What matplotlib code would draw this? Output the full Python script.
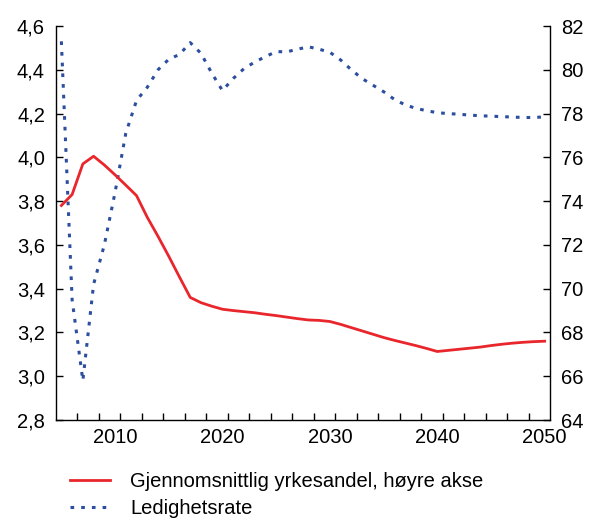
import numpy as np
import matplotlib
matplotlib.use("Agg")
import matplotlib.pyplot as plt
from matplotlib.ticker import FixedLocator, FuncFormatter

plt.rcParams['font.family'] = ['Liberation Sans', 'DejaVu Sans']

years = list(range(2005, 2051))

# Gjennomsnittlig yrkesandel (right axis)
yrkesandel = [73.8, 74.3, 75.7, 76.05, 75.65, 75.2, 74.73, 74.25, 73.26, 72.39,
              71.48, 70.53, 69.6, 69.36, 69.2, 69.06, 69.0, 68.95, 68.9, 68.83,
              68.77, 68.7, 68.63, 68.57, 68.55, 68.5, 68.37, 68.22, 68.07, 67.92,
              67.77, 67.64, 67.52, 67.4, 67.27, 67.13, 67.18, 67.23, 67.28, 67.33,
              67.4, 67.46, 67.51, 67.55, 67.58, 67.6]

# Ledighetsrate (left axis)
ledighet = [4.53, 3.35, 2.98, 3.42, 3.60, 3.84, 4.11, 4.26, 4.32, 4.40,
            4.448, 4.47, 4.524, 4.475, 4.385, 4.305, 4.36, 4.405, 4.435, 4.46,
            4.483, 4.482, 4.494, 4.505, 4.494, 4.48, 4.445, 4.40, 4.36, 4.33,
            4.30, 4.265, 4.24, 4.224, 4.213, 4.204, 4.20, 4.197, 4.193, 4.19,
            4.188, 4.186, 4.184, 4.182, 4.182, 4.185]

left_ticks = [2.8, 3.0, 3.2, 3.4, 3.6, 3.8, 4.0, 4.2, 4.4, 4.6]
right_ticks = [64, 66, 68, 70, 72, 74, 76, 78, 80, 82]
x_labels = [2010, 2020, 2030, 2040, 2050]

label_red = "Gjennomsnittlig yrkesandel, høyre akse"
label_blue = "Ledighetsrate"

RED = '#e8262c'
BLUE = '#2c4e9e'
FS = 14.5

W, H = 590, 519
fig = plt.figure(figsize=(W / 100, H / 100), dpi=100)
ax = fig.add_axes([56 / W, 1 - 420 / H, (550 - 56) / W, (420 - 26) / H])
ax2 = ax.twinx()

lb, = ax.plot(years, ledighet, color=BLUE, lw=2.2, linestyle=(0, (1.2, 2.3)),
              dash_capstyle='butt', label=label_blue, zorder=2)
lr, = ax2.plot(years, yrkesandel, color=RED, lw=2.0, label=label_red, zorder=3)

ax.set_xlim(2004.5, 2050.5)
ax.set_ylim(2.8, 4.6)
ax2.set_ylim(64, 82)

ax.set_yticks(left_ticks)
ax.yaxis.set_major_formatter(FuncFormatter(lambda v, p: f"{v:.1f}".replace('.', ',')))
ax2.set_yticks(right_ticks)
ax2.yaxis.set_major_formatter(FuncFormatter(lambda v, p: f"{int(round(v))}"))

ax.xaxis.set_major_locator(FixedLocator(x_labels))
ax.xaxis.set_minor_locator(FixedLocator(np.arange(2006.5, 2049, 2)))
ax.tick_params(axis='x', which='major', length=0, pad=6, labelsize=FS)
ax.tick_params(axis='x', which='minor', direction='in', length=5, width=1, color='black')
ax.tick_params(axis='y', direction='in', length=5, width=1, pad=8, labelsize=FS)
ax2.tick_params(axis='y', direction='in', length=5, width=1, pad=8, labelsize=FS)

for a in (ax, ax2):
    a.spines['top'].set_visible(False)
    for s in a.spines.values():
        s.set_linewidth(1.0)
        s.set_color('black')
ax.spines['right'].set_visible(False)
ax2.spines['left'].set_visible(False)
ax2.spines['bottom'].set_visible(False)

fig.legend(handles=[lr, lb], loc='upper left',
           bbox_to_anchor=(70 / W, 1 - 472 / H), frameon=False,
           fontsize=FS, handlelength=2.0, handletextpad=1.0,
           labelspacing=0.38, borderpad=0, borderaxespad=0)

fig.savefig('out.png', dpi=100)
